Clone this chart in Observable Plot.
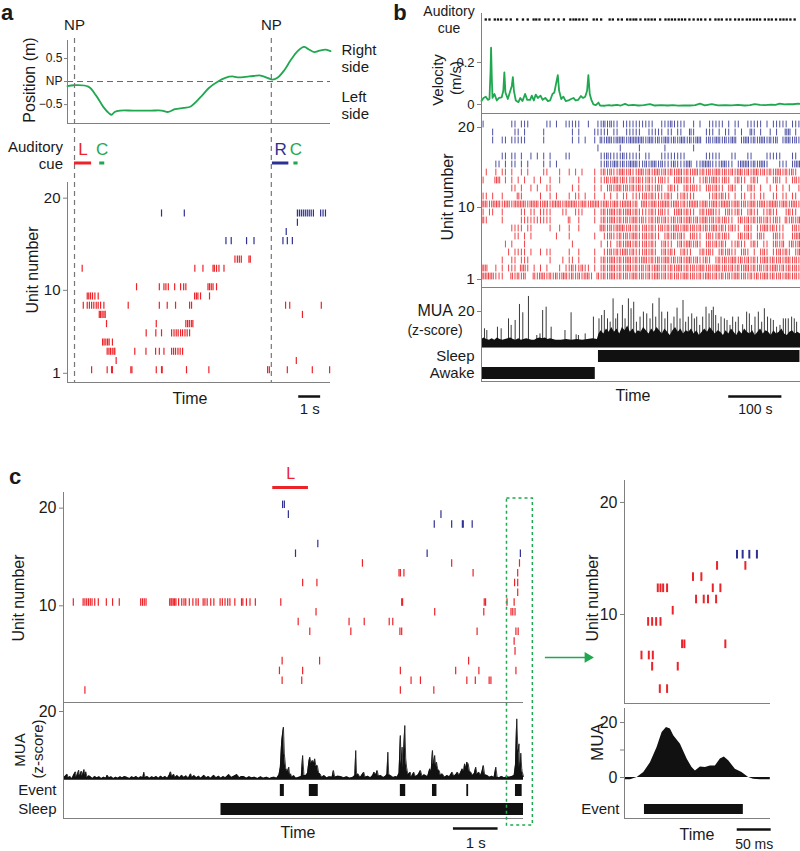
<!DOCTYPE html>
<html><head><meta charset="utf-8">
<script src="https://cdn.jsdelivr.net/npm/d3@7"></script>
<script src="https://cdn.jsdelivr.net/npm/@observablehq/plot@0.6"></script>
<style>
body{margin:0;background:#fff;}
#fig{position:relative;width:800px;height:851px;overflow:hidden;background:#fff;}
#fig svg{position:absolute;background:transparent;overflow:visible;}
</style></head><body><div id="fig"></div>
<script>
// ---------------- DATA ----------------
// Panel a
const npTimesA = [0.32, 9.3];                       // nose-poke times (s)
const positionA = [[0,-0.1],[0.3,-0.08],[0.95,-0.11],[1.3,-0.3],[1.65,-0.56],[1.9,-0.69],[2.01,-0.72],[2.15,-0.66],[2.4,-0.63],[3.0,-0.63],[3.8,-0.63],[4.3,-0.63],[4.6,-0.66],[4.9,-0.6],[5.3,-0.57],[5.62,-0.54],[6.07,-0.34],[6.45,-0.14],[6.83,-0.01],[7.2,0.08],[7.52,0.11],[7.75,0.09],[8.3,0.11],[8.81,0.13],[9.12,0.08],[9.35,0.04],[9.58,0.08],[9.9,0.25],[10.18,0.46],[10.5,0.66],[10.79,0.75],[11.0,0.7],[11.25,0.64],[11.5,0.67],[11.78,0.69],[12.0,0.66]];
const posTicks = [0.5, 0, -0.5];
const posTickLabels = ["0.5", "NP", "\u22120.5"];
const sideLabels = [{label:"Right\nside", pos:0.51}, {label:"Left\nside", pos:-0.5}];
const cuesA = [
  {cue:"L", start:0.32, end:1.10},
  {cue:"C", start:1.47, end:1.70},
  {cue:"R", start:9.35, end:10.10},
  {cue:"C", start:10.33, end:10.52}];
const rasterA = [
  {unit:18, pref:"R", t:[4.29,5.33,10.49,10.58,10.67,10.76,10.85,10.94,11.03,11.12,11.22,11.55,11.66,11.77]},
  {unit:17, pref:"R", t:[10.49]},
  {unit:16, pref:"R", t:[9.98]},
  {unit:15, pref:"R", t:[7.23,7.47,8.17,8.51,9.83,10.03,10.26]},
  {unit:13, pref:"L", t:[7.64,7.75,7.84,7.93,8.28,8.34]},
  {unit:12, pref:"L", t:[0.67,5.81,6.18,6.64,6.70,6.80,6.91,7.14]},
  {unit:10, pref:"L", t:[3.15,4.19,4.40,4.49,4.60,4.89,5.16,5.30,5.40,6.41,6.48,6.56,6.64,6.80]},
  {unit:9,  pref:"L", t:[0.90,0.97,1.05,1.14,1.25,1.40,5.80,5.88,5.95,6.07,6.48]},
  {unit:8,  pref:"L", t:[0.72,0.90,1.00,1.10,1.20,1.31,1.40,1.51,1.66,2.77,4.19,4.55,4.93,5.57,5.66,9.95,10.14,11.58]},
  {unit:7,  pref:"L", t:[1.45,1.51,1.58,1.66,1.72,10.72]},
  {unit:6,  pref:"L", t:[1.78,4.05,5.40,5.48,5.56,5.65,5.72]},
  {unit:5,  pref:"L", t:[3.59,4.03,4.29,4.75,4.86,4.96,5.05,5.16,5.25,5.36,5.46,5.57]},
  {unit:4,  pref:"L", t:[1.60,1.67,1.75,1.83,1.90,2.05]},
  {unit:3,  pref:"L", t:[1.81,1.89,1.96,2.04,2.12,2.16,3.07,3.58,4.02,4.19,4.40,4.75,4.84,4.93,5.04,5.14,5.25]},
  {unit:2,  pref:"L", t:[2.22,10.44]},
  {unit:1,  pref:"L", t:[1.10,1.81,2.01,2.05,2.89,2.94,4.05,4.29,4.32,5.43,6.45,9.13,9.21,10.03,11.17,11.96]}];
const unitTicksA = [1, 10, 20];
const scaleBarA = {start:10.55, len:1, label:"1 s"};

// Panel b
const cueTimesB = [8,15,25,31,37,47,55,67,78,87,98,103,109,120,126,136,145,155,167,173,178,184,191,198,211,217,225,241,247,257,264,274,280,286,291,299,308,314,320,326,336,346,352,358,364,371,377,383,391,399,407,413,421,430,440,446,452,461,468,477,484,491,499,505,512,518,524,533,540,546,554,562,568,574,581,589];
const velocityB = [[0,0.016],[3.8,0.031],[8,0.037],[12,0.022],[15,0.026],[17,0.158],[18,0.27],[19.4,0.127],[20.7,0.031],[24.4,0.05],[28.8,0.019],[33,0.031],[38,0.034],[41,0.065],[43,0.153],[45,0.057],[49.5,0.026],[54.5,0.068],[57,0.088],[59,0.13],[61,0.065],[64.5,0.019],[69.5,0.011],[73,0.031],[77,0.016],[82,0.05],[86,0.022],[91.5,0.022],[94.6,0.042],[98.4,0.019],[102,0.047],[106,0.031],[111,0.042],[115,0.022],[120,0.031],[125,0.016],[129,0.019],[133.5,0.05],[137,0.057],[140,0.096],[143.5,0.14],[146,0.065],[150,0.026],[154,0.037],[158.5,0.016],[163.5,0.019],[168.5,0.026],[173,0.031],[177,0.019],[182,0.022],[187,0.04],[191,0.031],[195,0.037],[198.6,0.065],[201,0.14],[203.6,0.05],[207,0.019],[210.5,0.0],[215,-0.003],[220,0.009],[223,-0.005],[232,-0.006],[240,-0.003],[245,-0.005],[255,-0.002],[262,-0.005],[270,0.003],[276,-0.004],[285,-0.002],[295,-0.005],[305,-0.003],[317,0.002],[326,-0.005],[338,-0.003],[350,-0.005],[360,-0.003],[370,-0.006],[380,-0.004],[392,-0.005],[402,-0.003],[411,0.004],[420,-0.004],[433,0.002],[445,-0.004],[458,-0.003],[470,-0.004],[482,-0.002],[495,-0.005],[505,-0.003],[514,0.002],[524,-0.002],[533,-0.003],[545,-0.001],[553,-0.002],[561,0.004],[570,0.0],[577,0.002],[586,0.001],[596,0.004],[600,0.003]];
const velTicks = [0, 0.2];
const velTickLabels = ["0", "0.2"];
const BIN_B = 6; // seconds per raster character: "|" one spike, "#" two spikes
const rasterBRows = [
  {unit:20, pref:"R", early:"|        || |||     || |  |||||  |  ||#|#|| ||||||", late:"||||  |||#||||  | |  ||||| | ||  ||||| | ||||| |||"},
  {unit:19, pref:"R", early:"   |      || |     |        | |    ||||| ||  |||||", late:"  ||||| || ||  #|   ||| | || | |  #| |  | |  ## | "},
  {unit:18, pref:"R", early:"   |  || |||||     |        | | |  | #|##|###|####", late:"#|##|#|##|#|##|#|## |#|##|#|## |##|#|##|#|# |##|#|"},
  {unit:17, pref:"R", early:"                                    |      |     |", late:"       |        |"},
  {unit:16, pref:"R", early:"      || || |  | | | |    ||         ||#||||#|||||", late:" ||   ||||||||      |||||   ||   ||    |||||   || "},
  {unit:15, pref:"R", early:"    || | || | |    | | |             ||#|##|#|###|", late:"|#|##|#|||#|||## ||###|||##|| |###|#|##|   ||| |##"},
  {unit:14, pref:"L", early:" |  | || |  | |    ||   |  | | |   | |#|#||##|#||#", late:"#|#|##|#|#|##|#|##|#|#|##|#|#|##|#|##|#|#|##|#|#|"},
  {unit:13, pref:"L", early:"|   ## | | | |  | |  |  |     |    | ||#|##|#||#|#", late:"||#|||#|| |##|#|| ||#|##||#| |#|| |#|  | |#| | |#|"},
  {unit:12, pref:"L", early:"         || |  | |  ||      | |    | | |#|##|#|#|#", late:"||#||#| |#|| |#|#|| |#|#|| |#| | |#| |  | | | |  |"},
  {unit:11, pref:"L", early:"|| |  |    #|     |  | |   | || |  |  | | | || |||", late:"|#|#||||#| ||#|||    ||#|#|| | || || ||  || || || |"},
  {unit:10, pref:"L", early:"##|###|##|####|###|##|###|####|##|###|##|##|###|#", late:"##|##|###|##|#|###|##|##|###|##|#|##|##|###|##|##|"},
  {unit:9,  pref:"L", early:"| ||  |     || || ||||   ||  |||   | |#|##|#|##|#|", late:"|||#||#|| |##|#|| |#|##|| |#||#| |#|| ||#||  |#|| |"},
  {unit:8,  pref:"L", early:"#|    |     ||||||||||     #  |    | |#|##|#|#|##|", late:"#||#|#|#||#|#|##|#|##|#|#|#|| |#|#|#|#|#||#| #|#|#"},
  {unit:7,  pref:"L", early:"         |||| ||     |  |  |  |      ##|#|###|#|#|", late:"|#|#||#|#|##|##|#|#|#|##|#||#|| |#| ||##|#|||  |#|"},
  {unit:6,  pref:"L", early:"          || | |       |   |       |  ||#||#|#|##|", late:"|#|#|| |#|#|#| |#|| |#||#|#|  |#|#| |#|  |#||  |##"},
  {unit:5,  pref:"L", early:"       | |   |              |        | || |#|##|#|", late:"|#|#| |#|| |#|##|#| |#|#|#| ||#|| |#| || |#|# |#|#"},
  {unit:4,  pref:"L", early:"        | |||| |  | ||     |  |    |  ||#|#|##|#||", late:"|#|#| |#|#| |#||  |#|#| |#|#|| |#| | |#| ||#|#| |#"},
  {unit:3,  pref:"L", early:"      |  || |||      |   | || |    | |#|##|#|##|#|", late:"##|#|#|##|#|#|##|#||#| |#|#|##|#|#|#||##|#|#|##|#|"},
  {unit:2,  pref:"L", early:"##  | | ||| ##| | | |   | ||#||#|| | |#|##|#|##|#|", late:"#|#|##|#|#|##|#|#|##|#|##|#|#|#|##|#|#|#|##|#|#|#|"},
  {unit:1,  pref:"L", early:"####|||  #|#|#  #|##|#|#|##|#|#|##| #|#|##|#|#|##|", late:"#|#|##|#|#|#|##|#|#|##|#|#|#|##|#|#|#|##|#|#|##|#|"}];
const unitTicksB = [1, 10, 20];
const muaBBase = [[0,2.5],[5,3.5],[10,2.5],[15,2],[20,3],[25,2],[30,3.5],[35,2.5],[40,2],[45,2.5],[50,3],[55,3.5],[60,2.5],[65,2],[70,3],[75,2],[80,2.5],[85,3],[90,2.5],[95,2],[100,2],[105,3],[110,3.5],[115,3],[120,3.5],[125,2.5],[130,3],[140,2],[150,2],[160,2.5],[170,2],[180,2.5],[190,2],[200,2.5],[210,3],[218,2.5],[221,6],[225,8],[230,6],[235,9],[240,7],[245,10],[250,7],[255,9],[260,6],[265,10],[270,8],[275,11],[280,7],[285,9],[290,6],[295,8],[300,7],[305,10],[310,8],[315,6],[320,9],[325,7],[330,10],[335,8],[340,6],[345,9],[350,7],[355,5],[360,8],[365,10],[370,7],[375,9],[380,6],[385,8],[390,7],[395,9],[400,6],[405,8],[410,5],[415,7],[420,9],[425,7],[430,10],[435,8],[440,6],[445,8],[450,7],[455,5],[460,8],[465,6],[470,9],[475,7],[480,5],[485,8],[490,6],[495,9],[500,7],[505,6],[510,8],[515,5],[520,7],[525,9],[530,6],[535,8],[540,7],[545,5],[550,8],[555,6],[560,7],[565,9],[570,6],[575,5],[580,7],[585,8],[590,6],[595,7],[600,6]];
const muaBSpikes = [[5.6,9.2],[10,8.1],[30,10.2],[37,9.2],[50.8,15.4],[55.8,11.3],[63.3,14.4],[71.4,24.4],[77.7,19.2],[88.3,29.4],[104,5],[110,6],[115,20.6],[121.6,22.7],[131,10.2],[157,8.1],[168.5,19.2],[178,5.4],[182.3,5],[195,6],[210.5,16.5],[221,15.4],[226,17.5],[231,20.6],[237,15.4],[242,13.3],[247.5,27.9],[252.5,15.4],[256,18.5],[265,23.8],[270,15.4],[276.3,27.9],[281.3,21.7],[286.3,25.8],[291.4,13.3],[298.2,16.5],[304.5,19.6],[310.8,18.5],[317,15.4],[322,24.8],[327.7,16.5],[334,28.3],[339,19.6],[345,15.4],[350,19.6],[356.5,12.3],[362,16.5],[367.8,22.1],[373.4,15.4],[379,26.9],[384,13.3],[389,16.5],[395.4,18.5],[400.4,15.4],[404.8,16.5],[410.4,11.3],[416,16.5],[422.3,22.7],[428,18.5],[433,20.6],[436,22.7],[440.5,17.5],[445.5,12.3],[450.5,16.5],[456.8,15.4],[461.8,14.4],[467.4,11.3],[472.4,16.5],[478,13.3],[483,16.5],[491.2,11.7],[498.7,19.6],[503.8,18.5],[508,11.3],[514.4,16.5],[520.7,19.6],[527,13.3],[532,21.7],[538,16.5],[543.9,15.4],[548.9,14.4],[555,10.2],[561.4,11.3],[567.7,15.4],[572,15.4],[577,15.4],[583.3,16.5],[588.3,15.4],[592.7,13.3]];
const muaTicksB = [20];
const statesB = [{state:"Awake", start:1, end:214}, {state:"Sleep", start:220, end:599}];
const scaleBarB = {start:465, len:100, label:"100 s"};

// Panel c
const cueC = [{cue:"L", start:4.69, end:5.49}];
const rasterC = [
  {unit:20, pref:"R", t:[4.91,4.95]},
  {unit:19, pref:"R", t:[5.04,8.46]},
  {unit:18, pref:"R", t:[8.31,8.70,8.94,8.96,9.16]},
  {unit:16, pref:"R", t:[5.70]},
  {unit:15, pref:"R", t:[5.20,8.15,10.24]},
  {unit:14, pref:"L", t:[6.70,8.70,10.22]},
  {unit:13, pref:"L", t:[7.52,7.55,7.63,9.18,10.18]},
  {unit:12, pref:"L", t:[5.36,5.68,10.11,10.18]},
  {unit:11, pref:"L", t:[10.18]},
  {unit:10, pref:"L", t:[0.22,0.44,0.48,0.52,0.56,0.60,0.64,0.70,0.78,0.96,1.10,1.25,1.73,1.77,1.81,1.85,2.38,2.41,2.43,2.46,2.49,2.52,2.58,2.65,2.70,2.74,2.82,2.90,2.97,3.02,3.13,3.17,3.22,3.30,3.37,3.51,3.56,3.62,3.68,3.73,3.84,3.99,4.02,4.10,4.18,4.30,4.87,7.58,7.60,9.43,9.46,9.94,10.10]},
  {unit:9,  pref:"L", t:[5.66,8.32,9.42,10.03,10.07,10.12]},
  {unit:8,  pref:"L", t:[5.26,6.40,6.74,7.30,7.38]},
  {unit:7,  pref:"L", t:[5.52,6.44,7.54,7.58,9.27,10.14,10.19]},
  {unit:6,  pref:"L", t:[10.10]},
  {unit:5,  pref:"L", t:[10.12]},
  {unit:4,  pref:"L", t:[4.90,5.74,9.08]},
  {unit:3,  pref:"L", t:[4.84,5.36,7.55,8.79,9.31,10.14]},
  {unit:2,  pref:"L", t:[4.90,5.34,7.79,8.00,9.04,9.23,9.54,9.58]},
  {unit:1,  pref:"L", t:[0.48,7.55,8.30]}];
const unitTicksC = [10, 20];
const muaC = [[0.00,0.2],[0.04,0.6],[0.08,1.2],[0.11,0.1],[0.15,0.5],[0.19,-0.2],[0.23,1.0],[0.27,1.9],[0.29,0.3],[0.32,1.4],[0.34,2.4],[0.36,0.5],[0.40,2.1],[0.42,0.6],[0.46,2.6],[0.48,0.8],[0.50,1.9],[0.53,0.2],[0.57,0.7],[0.61,0.4],[0.65,-0.1],[0.70,0.5],[0.75,0.1],[0.80,0.4],[0.85,-0.1],[0.90,0.3],[0.95,0.0],[0.98,0.9],[1.02,0.1],[1.07,0.4],[1.12,-0.1],[1.17,0.3],[1.22,0.0],[1.27,0.4],[1.32,0.1],[1.37,0.5],[1.43,0.2],[1.48,-0.1],[1.53,0.4],[1.58,0.1],[1.63,0.5],[1.68,0.0],[1.73,0.4],[1.78,0.2],[1.80,1.8],[1.83,0.2],[1.88,0.5],[1.93,0.0],[1.98,0.4],[2.03,0.1],[2.08,0.5],[2.13,0.0],[2.18,0.6],[2.23,0.1],[2.28,0.5],[2.33,0.0],[2.37,0.9],[2.40,1.9],[2.43,0.4],[2.47,1.2],[2.50,0.2],[2.55,0.8],[2.60,0.1],[2.65,0.9],[2.70,0.2],[2.75,0.7],[2.80,0.0],[2.85,1.3],[2.88,0.2],[2.93,0.8],[2.98,0.1],[3.03,0.6],[3.08,0.0],[3.15,0.9],[3.20,0.1],[3.25,0.5],[3.30,0.0],[3.37,0.9],[3.42,0.1],[3.48,0.6],[3.53,0.0],[3.58,0.5],[3.63,0.1],[3.71,1.1],[3.76,0.2],[3.82,0.6],[3.89,1.1],[3.94,0.1],[3.99,0.5],[4.04,0.5],[4.10,0.0],[4.16,0.4],[4.22,0.1],[4.28,0.3],[4.35,-0.1],[4.42,0.4],[4.48,0.0],[4.55,0.3],[4.62,-0.1],[4.68,0.2],[4.72,0.3],[4.78,0.0],[4.83,1.0],[4.86,3.3],[4.89,11],[4.91,13.3],[4.93,15.3],[4.95,7.3],[4.98,3.0],[5.02,2.0],[5.05,3.3],[5.07,0.8],[5.09,1.3],[5.12,0.2],[5.16,0.8],[5.21,0.0],[5.28,0.3],[5.33,0.5],[5.36,6.8],[5.39,0.8],[5.43,0.8],[5.47,1.5],[5.50,5.0],[5.52,6.3],[5.55,4.5],[5.58,5.3],[5.61,4.5],[5.63,5.8],[5.66,3.5],[5.69,3.8],[5.72,1.5],[5.75,1.3],[5.79,0.2],[5.84,0.8],[5.90,0.1],[5.96,0.4],[6.02,0.3],[6.05,2.3],[6.08,0.3],[6.14,0.6],[6.21,0.5],[6.28,0.1],[6.35,0.4],[6.42,0.0],[6.49,0.3],[6.53,0.8],[6.55,8.3],[6.57,0.8],[6.60,1.3],[6.65,0.2],[6.73,1.8],[6.76,0.3],[6.82,0.6],[6.88,0.1],[6.93,0.8],[6.96,1.8],[7.00,1.0],[7.03,2.3],[7.06,0.6],[7.11,0.8],[7.17,0.2],[7.22,0.6],[7.25,1.2],[7.27,7.8],[7.29,1.0],[7.33,0.8],[7.39,0.2],[7.45,0.5],[7.48,0.3],[7.52,1.5],[7.55,12.8],[7.57,4.0],[7.59,9.3],[7.61,3.0],[7.63,10],[7.65,15.8],[7.67,6],[7.69,3.3],[7.72,1.0],[7.77,1.8],[7.80,0.3],[7.85,1.8],[7.89,0.4],[7.95,1.0],[8.00,2.3],[8.04,0.5],[8.08,1.0],[8.12,0.8],[8.16,0.4],[8.21,2.8],[8.24,2.0],[8.27,8.3],[8.29,4.0],[8.32,6.8],[8.34,3.5],[8.36,4.8],[8.39,2.5],[8.42,2.3],[8.45,0.8],[8.49,1.3],[8.54,0.3],[8.60,0.8],[8.65,0.4],[8.71,1.8],[8.75,0.5],[8.80,1.2],[8.83,1.8],[8.87,0.8],[8.91,2.0],[8.94,2.8],[8.97,2.0],[8.99,4.3],[9.02,3.0],[9.04,4.8],[9.07,4.3],[9.10,2.0],[9.13,1.8],[9.17,0.8],[9.21,1.5],[9.24,3.3],[9.27,1.2],[9.31,1.8],[9.35,0.8],[9.38,2.0],[9.41,3.8],[9.44,1.0],[9.50,0.8],[9.55,0.3],[9.60,0.6],[9.65,0.2],[9.69,3.3],[9.72,0.3],[9.76,0.1],[9.82,0.5],[9.88,0.1],[9.94,0.4],[9.99,0.3],[10.05,0.5],[10.10,0.8],[10.13,4.0],[10.15,14],[10.16,17.8],[10.18,10],[10.19,8.0],[10.21,10.3],[10.22,3.0],[10.24,5.0],[10.25,7.5],[10.27,3.0],[10.28,2.0],[10.31,0.5]];
const muaTicksC = [20];
const statesC = [
  {state:"Event", start:4.86, end:4.95},{state:"Event", start:5.51, end:5.71},{state:"Event", start:7.55, end:7.67},
  {state:"Event", start:8.27, end:8.37},{state:"Event", start:9.04, end:9.08},{state:"Event", start:10.13, end:10.28},
  {state:"Sleep", start:3.53, end:10.31}];
const scaleBarC = {start:8.74, len:1, label:"1 s"};
const insetWindowC = {start:9.94, end:10.52};
const arrowC = {from:10.8, to:11.75};

// Panel c inset (ms)
const rasterInset = [
  {unit:15, pref:"R", t:[165.7,174,183.8,195]},
  {unit:14, pref:"L", t:[136.3,178]},
  {unit:13, pref:"L", t:[100.9,113.2]},
  {unit:12, pref:"L", t:[49,53,56.9,62.7,130,141.2]},
  {unit:11, pref:"L", t:[105.4,116.7,123,134.9]},
  {unit:10, pref:"L", t:[71]},
  {unit:9,  pref:"L", t:[34.8,40.7,46.6,53]},
  {unit:7,  pref:"L", t:[84.8,88.2,148.5]},
  {unit:6,  pref:"L", t:[25,35.8,41.7]},
  {unit:5,  pref:"L", t:[40.7,78.4]},
  {unit:3,  pref:"L", t:[52,62.7]}];
const unitTicksInset = [10, 20];
const muaInset = [[0,-0.8],[8.8,-0.8],[18.6,0],[28.4,1.8],[38.2,5.4],[48,10.9],[55.4,16.4],[61.8,18.2],[67.6,17.6],[72.5,15.2],[82.4,12.1],[92.2,6.7],[99.5,3.6],[104.4,2.4],[111.8,3.8],[119.1,3.6],[126.5,4.2],[133.8,4.2],[141.2,6.7],[147,7.5],[153.4,6.1],[163.2,3.0],[173,1.8],[182.8,0.0],[190.2,-0.6],[200,-0.85],[214.7,-0.85]];
const muaTicksInset = [0, 10, 20];
const eventInset = [{state:"Event", start:29.4, end:175}];
const scaleBarInset = {start:166, len:50, label:"50 ms"};

// ---------------- STYLE / HELPERS ----------------
const RED = "#ec2329", BLUE = "#2e3192", GREEN = "#1fa84f", AX = "#808080", INK = "#1a1a1a";
const FONT = '"Liberation Sans", Arial, Helvetica, sans-serif';
const cueColor = {domain:["L","R","C"], range:[RED, BLUE, GREEN]};
const fig = document.getElementById("fig");

function mk(box, frame, opts) {
  const [l, t, w, h] = box, [x0, x1, y0, y1] = frame;
  const svg = Plot.plot({
    width: w, height: h,
    marginLeft: x0 - l, marginRight: l + w - x1, marginTop: y0 - t, marginBottom: t + h - y1,
    style: {fontFamily: FONT, fontSize: "15px", color: INK, background: "transparent", overflow: "visible"},
    ...opts
  });
  svg.style.position = "absolute"; svg.style.left = l + "px"; svg.style.top = t + "px";
  fig.appendChild(svg);
  return svg;
}
function label(text, x, y, o = {}) {
  const d = document.createElement("div");
  d.textContent = text;
  Object.assign(d.style, {position:"absolute", left:x+"px", top:y+"px", fontFamily:FONT,
    fontSize:(o.size||15)+"px", fontWeight:o.bold?"bold":"normal", whiteSpace:"nowrap", lineHeight:"1", color:INK});
  const tx = o.anchor === "end" ? "-100%" : o.anchor === "start" ? "0" : "-50%";
  d.style.transform = `translate(${tx},-50%)` + (o.rotate ? ` rotate(${o.rotate}deg)` : "");
  fig.appendChild(d);
}
const flat = rows => rows.flatMap(r => r.t.map(t => ({t, u: r.unit, pref: r.pref})));

// ---------------- PANEL a ----------------
const xA = {domain:[0, 12], axis:null};
mk([0, 30, 400, 100], [67, 330, 40, 123], {
  x: xA, y: {domain:[-0.91, 0.89], axis:null},
  marks: [
    Plot.ruleY([0], {stroke:"#666", strokeDasharray:"6,4"}),
    Plot.line(positionA, {x: d => d[0], y: d => d[1], stroke: GREEN, strokeWidth: 1.8, curve: "catmull-rom"}),
    Plot.ruleX([0], {stroke: AX}),
    Plot.ruleY([-0.91], {stroke: AX}),
    Plot.axisY({ticks: posTicks, tickFormat: d => posTickLabels[posTicks.indexOf(d)], tickSize: 3, tickPadding: 2, fontSize: 12, stroke: AX, label: null}),
    Plot.text(sideLabels, {x: () => 12, y: "pos", text: "label", dx: 11, textAnchor: "start", fontSize: 15, lineHeight: 1.13})
  ]
});
mk([0, 10, 400, 380], [67, 330, 38, 383], {
  x: xA, y: {domain:[0,1], axis:null},
  marks: [
    Plot.ruleX(npTimesA, {x: d => d, stroke: "#777", strokeDasharray: "5,4", strokeWidth: 1.2}),
    Plot.text(npTimesA, {x: d => d, frameAnchor: "top", lineAnchor: "middle", dy: -13, text: () => "NP", fontSize: 15})
  ]
});
mk([0, 135, 400, 40], [67, 330, 161.5, 164.5], {
  x: xA, y: {domain:[0,1], axis:null}, color: cueColor,
  marks: [
    Plot.rect(cuesA, {x1: "start", x2: "end", fill: "cue"}),
    Plot.text(cuesA, {x: d => (d.start + d.end) / 2, frameAnchor: "top", lineAnchor: "middle", dy: -12, text: "cue", fill: "cue", fontSize: 17})
  ]
});
mk([0, 175, 400, 245], [67, 330, 182, 382], {
  x: xA, y: {domain:[0, 21.7], axis:null}, color: cueColor,
  marks: [
    Plot.ruleX(flat(rasterA), {x: "t", y1: d => d.u - 0.05, y2: d => d.u + 0.72, stroke: "pref", strokeWidth: 1.2}),
    Plot.ruleX([0], {stroke: AX}),
    Plot.ruleY([0], {stroke: AX}),
    Plot.axisY({ticks: unitTicksA, tickSize: 4, tickPadding: 3, fontSize: 15, stroke: AX, label: null}),
    Plot.ruleY([scaleBarA], {x1: d => d.start, x2: d => d.start + d.len, y: () => 0, dy: 14, stroke: "#111", strokeWidth: 2.5}),
    Plot.text([scaleBarA], {x: d => d.start + d.len / 2, y: () => 0, dy: 27, text: "label", fontSize: 15})
  ]
});
label("a", 7, 13, {size: 22, bold: true});
label("Position (m)", 30, 80, {size: 16, rotate: -90});
label("Auditory", 63, 146, {anchor: "end"});
label("cue", 63, 163, {anchor: "end"});
label("Unit number", 33, 270, {size: 16, rotate: -90});
label("Time", 190, 399, {size: 16});

// ---------------- PANEL b ----------------
const xB = {domain:[0, 600], axis:null};
mk([440, 5, 360, 110], [481, 800, 13, 113], {
  x: xB, y: {domain:[-0.043, 0.433], axis:null},
  marks: [
    Plot.dot(cueTimesB, {x: d => d, frameAnchor: "top", dy: 6, r: 1.3, symbol: "square", fill: "#111"}),
    Plot.line(velocityB, {x: d => d[0], y: d => d[1], stroke: GREEN, strokeWidth: 1.8}),
    Plot.ruleX([0], {stroke: AX}),
    Plot.ruleY([-0.043], {stroke: AX}),
    Plot.axisY({ticks: velTicks, tickFormat: d => velTickLabels[velTicks.indexOf(d)], tickSize: 4, tickPadding: 3, fontSize: 13, stroke: AX, label: null})
  ]
});
const spikesB = rasterBRows.flatMap(r => {
  const s = r.early.padEnd(50).slice(0, 50) + r.late.padEnd(50).slice(0, 50);
  const out = [];
  for (let i = 0; i < s.length; i++) {
    if (s[i] === "|") out.push({t: (i + 0.5) * BIN_B, u: r.unit, pref: r.pref});
    else if (s[i] === "#") { out.push({t: (i + 0.2) * BIN_B, u: r.unit, pref: r.pref}); out.push({t: (i + 0.7) * BIN_B, u: r.unit, pref: r.pref}); }
  }
  return out;
});
mk([440, 113, 360, 180], [481, 800, 113, 287], {
  x: xB, y: {domain:[0, 21.75], axis:null}, color: cueColor,
  marks: [
    Plot.ruleX(spikesB, {x: "t", y1: d => d.u - 0.05, y2: d => d.u + 0.8, stroke: "pref", strokeWidth: 1, strokeOpacity: 0.85}),
    Plot.ruleX([0], {stroke: AX}),
    Plot.ruleY([0], {stroke: AX}),
    Plot.axisY({ticks: unitTicksB, tickSize: 4, tickPadding: 3, fontSize: 15, stroke: AX, label: null})
  ]
});
mk([440, 287, 360, 65], [481, 800, 287, 347], {
  x: xB, y: {domain:[-2.5, 35], axis:null},
  marks: [
    Plot.ruleX(muaBSpikes, {x: d => d[0], y1: () => -2.5, y2: d => d[1], stroke: "#3a3a3a", strokeWidth: 1}),
    Plot.areaY(muaBBase, {x: d => d[0], y1: () => -2.5, y2: d => d[1], fill: "#111"}),
    Plot.ruleX([0], {stroke: AX}),
    Plot.ruleY([-2.5], {stroke: AX}),
    Plot.axisY({ticks: muaTicksB, tickSize: 4, tickPadding: 3, fontSize: 15, stroke: AX, label: null})
  ]
});
mk([400, 347, 400, 40], [481, 800, 347, 381], {
  x: xB, y: {type: "band", domain: ["Sleep", "Awake"], paddingInner: 0.3, paddingOuter: 0.1, axis: null},
  marks: [
    Plot.barX(statesB, {x1: "start", x2: "end", y: "state", fill: "#111"}),
    Plot.ruleX([0], {stroke: AX}),
    Plot.axisY({tickSize: 0, tickPadding: 7, fontSize: 15, label: null})
  ]
});
mk([440, 375, 360, 45], [481, 800, 380, 381], {
  x: xB, y: {domain:[0,1], axis:null},
  marks: [
    Plot.ruleY([0], {stroke: AX}),
    Plot.ruleY([scaleBarB], {x1: d => d.start, x2: d => d.start + d.len, y: () => 0, dy: 15, stroke: "#111", strokeWidth: 2.5}),
    Plot.text([scaleBarB], {x: d => d.start + d.len / 2, y: () => 0, dy: 28, text: "label", fontSize: 14})
  ]
});
label("b", 400, 13, {size: 22, bold: true});
label("Auditory", 449, 11, {size: 14});
label("cue", 449, 28, {size: 14});
label("Velocity", 437, 80, {size: 15, rotate: -90});
label("(m/s)", 455, 78, {size: 15, rotate: -90});
label("Unit number", 448, 197, {size: 16, rotate: -90});
label("MUA", 453, 311, {size: 16, anchor: "end"});
label("(z-score)", 435, 330, {size: 14});
label("Time", 633, 396, {size: 16});

// ---------------- PANEL c ----------------
const xC = {domain:[0, 10.31], axis:null};
mk([0, 465, 560, 30], [63, 523, 486, 489], {
  x: xC, y: {domain:[0,1], axis:null}, color: cueColor,
  marks: [
    Plot.rect(cueC, {x1: "start", x2: "end", fill: "cue"}),
    Plot.text(cueC, {x: d => (d.start + d.end) / 2, frameAnchor: "top", lineAnchor: "middle", dy: -13, text: "cue", fill: "cue", fontSize: 16})
  ]
});
mk([0, 485, 560, 220], [63, 523, 492, 702], {
  x: xC, y: {domain:[0.1, 21.6], axis:null}, color: cueColor,
  marks: [
    Plot.ruleX(flat(rasterC), {x: "t", y1: d => d.u - 0.05, y2: d => d.u + 0.72, stroke: "pref", strokeWidth: 1.2}),
    Plot.ruleX([0], {stroke: AX}),
    Plot.ruleY([0.1], {stroke: AX}),
    Plot.axisY({ticks: unitTicksC, tickSize: 4, tickPadding: 3, fontSize: 16, stroke: AX, label: null})
  ]
});
mk([0, 700, 560, 82], [63, 523, 702, 780], {
  x: xC, y: {domain:[-0.7, 22.7], axis:null},
  marks: [
    Plot.areaY(muaC, {x: d => d[0], y1: () => -0.6, y2: d => d[1], fill: "#111"}),
    Plot.line(muaC, {x: d => d[0], y: d => d[1], stroke: "#111", strokeWidth: 0.8}),
    Plot.ruleX([0], {stroke: AX}),
    Plot.axisY({ticks: muaTicksC, tickSize: 4, tickPadding: 3, fontSize: 16, stroke: AX, label: null})
  ]
});
mk([0, 780, 560, 40], [63, 523, 780, 818], {
  x: xC, y: {type: "band", domain: ["Event", "Sleep"], paddingInner: 0.37, paddingOuter: 0.15, axis: null},
  marks: [
    Plot.barX(statesC, {x1: "start", x2: "end", y: "state", fill: "#111"}),
    Plot.ruleX([0], {stroke: AX}),
    Plot.axisY({tickSize: 0, tickPadding: 7, fontSize: 15, label: null})
  ]
});
mk([0, 812, 560, 39], [63, 523, 817, 818], {
  x: xC, y: {domain:[0,1], axis:null},
  marks: [
    Plot.ruleY([0], {stroke: AX}),
    Plot.ruleY([scaleBarC], {x1: d => d.start, x2: d => d.start + d.len, y: () => 0, dy: 10, stroke: "#111", strokeWidth: 2.5}),
    Plot.text([scaleBarC], {x: d => d.start + d.len / 2, y: () => 0, dy: 25, text: "label", fontSize: 15})
  ]
});
mk([0, 490, 620, 345], [63, 523, 498, 825], {
  x: xC, y: {domain:[0,1], axis:null},
  marks: [
    Plot.rect([insetWindowC], {x1: "start", x2: "end", fill: "none", stroke: GREEN, strokeWidth: 1.5, strokeDasharray: "3,3"}),
    Plot.ruleY([arrowC], {x1: "from", x2: "to", y: () => 0.514, stroke: GREEN, strokeWidth: 1.5}),
    Plot.dot([arrowC], {x: "to", y: () => 0.514, symbol: "triangle", rotate: 90, r: 4, fill: GREEN, stroke: "none"})
  ]
});
label("c", 15, 477, {size: 22, bold: true});
label("Unit number", 19, 598, {size: 16, rotate: -90});
label("MUA", 19, 750, {size: 15, rotate: -90});
label("(z-score)", 37, 749, {size: 15, rotate: -90});
label("Time", 298, 833, {size: 16});

// ---------------- INSET ----------------
const xI = {domain:[0, 215], axis:null};
mk([560, 470, 240, 240], [624, 770, 480, 703], {
  x: xI, y: {domain:[2.05, 21.96], axis:null}, color: cueColor,
  marks: [
    Plot.ruleX(flat(rasterInset), {x: "t", y1: d => d.u - 0.05, y2: d => d.u + 0.72, stroke: "pref", strokeWidth: 2}),
    Plot.ruleX([0], {stroke: AX}),
    Plot.ruleY([2.05], {stroke: AX}),
    Plot.axisY({ticks: unitTicksInset, tickSize: 4, tickPadding: 3, fontSize: 16, stroke: AX, label: null})
  ]
});
mk([560, 700, 240, 100], [624, 770, 708, 799], {
  x: xI, y: {domain:[-8, 25.1], axis:null},
  marks: [
    Plot.areaY(muaInset, {x: d => d[0], y1: () => 0, y2: d => d[1], fill: "#111"}),
    Plot.ruleX([0], {stroke: AX}),
    Plot.axisY({ticks: muaTicksInset, tickFormat: d => d === 10 ? "" : String(d), tickSize: 4, tickPadding: 3, fontSize: 16, stroke: AX, label: null})
  ]
});
mk([560, 795, 240, 25], [624, 770, 799, 818], {
  x: xI, y: {type: "band", domain: ["Event"], padding: 0.3, axis: null},
  marks: [
    Plot.barX(eventInset, {x1: "start", x2: "end", y: "state", fill: "#111"}),
    Plot.ruleX([0], {stroke: AX}),
    Plot.axisY({tickSize: 0, tickPadding: 5, fontSize: 15, label: null})
  ]
});
mk([560, 812, 240, 39], [624, 770, 817, 818], {
  x: xI, y: {domain:[0,1], axis:null},
  marks: [
    Plot.ruleY([0], {stroke: AX}),
    Plot.ruleY([scaleBarInset], {x1: d => d.start, x2: d => d.start + d.len, y: () => 0, dy: 11, stroke: "#111", strokeWidth: 2.5}),
    Plot.text([scaleBarInset], {x: d => d.start + d.len / 2, y: () => 0, dy: 26, text: "label", fontSize: 14})
  ]
});
label("Unit number", 593, 598, {size: 16, rotate: -90});
label("MUA", 597, 742, {size: 17, rotate: -90});
label("Time", 697, 835, {size: 16});
</script></body></html>
